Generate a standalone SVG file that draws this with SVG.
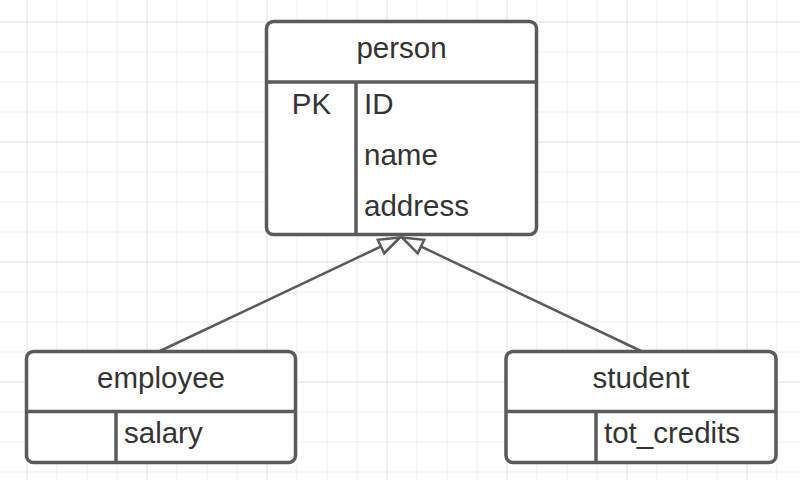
<svg xmlns="http://www.w3.org/2000/svg" width="800" height="480" viewBox="0 0 800 480">
<defs>
<style>
.g{stroke:#ececec;stroke-width:1}
.gd{stroke:#dedede;stroke-width:1}
.box{fill:#ffffff;stroke:#5a5a5a;stroke-width:3.5}
.div{stroke:#5a5a5a;stroke-width:3.5}
.t{font-family:"Liberation Sans",Arial,sans-serif;font-size:29.5px;fill:#333333}
.c{text-anchor:middle}
.conn{stroke:#5a5a5a;stroke-width:2.5;fill:none}
</style>
<pattern id="grid" x="26.5" y="21.5" width="120" height="120" patternUnits="userSpaceOnUse">
<path d="M30.5,0V120M60.5,0V120M90.5,0V120M0,30.5H120M0,60.5H120M0,90.5H120" class="g"/>
<path d="M0.5,0V120M0,0.5H120" class="gd"/>
</pattern>
<marker id="tri" viewBox="-24 -10 26 20" refX="0" refY="0" markerWidth="26" markerHeight="20" markerUnits="userSpaceOnUse" orient="auto">
<path d="M0,0 L-21,-7.5 L-21,7.5 Z" fill="#ffffff" stroke="#5a5a5a" stroke-width="2.5" stroke-linejoin="miter"/>
</marker>
</defs>
<rect width="800" height="480" fill="#ffffff"/>
<rect width="800" height="480" fill="url(#grid)"/>
<g id="connectors">
<line class="conn" x1="160" y1="351" x2="400" y2="237.5" marker-end="url(#tri)"/>
<line class="conn" x1="641" y1="351" x2="402" y2="237.5" marker-end="url(#tri)"/>
</g>
<g id="person">
<rect class="box" x="266.5" y="21.5" width="270" height="213" rx="7"/>
<line class="div" x1="266.5" y1="82" x2="536.5" y2="82"/>
<line class="div" x1="356" y1="82" x2="356" y2="234.5"/>
<text class="t c" x="401.5" y="58">person</text>
<text class="t c" x="311.5" y="114">PK</text>
<text class="t" x="364" y="114">ID</text>
<text class="t" x="364" y="165">name</text>
<text class="t" x="364" y="216">address</text>
</g>
<g id="employee">
<rect class="box" x="26.5" y="351.5" width="269" height="111" rx="7"/>
<line class="div" x1="26.5" y1="411.5" x2="295.5" y2="411.5"/>
<line class="div" x1="116" y1="411.5" x2="116" y2="462.5"/>
<text class="t c" x="161" y="388">employee</text>
<text class="t" x="124" y="443">salary</text>
</g>
<g id="student">
<rect class="box" x="506" y="351.5" width="270" height="111" rx="7"/>
<line class="div" x1="506" y1="411.5" x2="776" y2="411.5"/>
<line class="div" x1="596" y1="411.5" x2="596" y2="462.5"/>
<text class="t c" x="641" y="388">student</text>
<text class="t" x="604" y="443">tot_credits</text>
</g>
</svg>
